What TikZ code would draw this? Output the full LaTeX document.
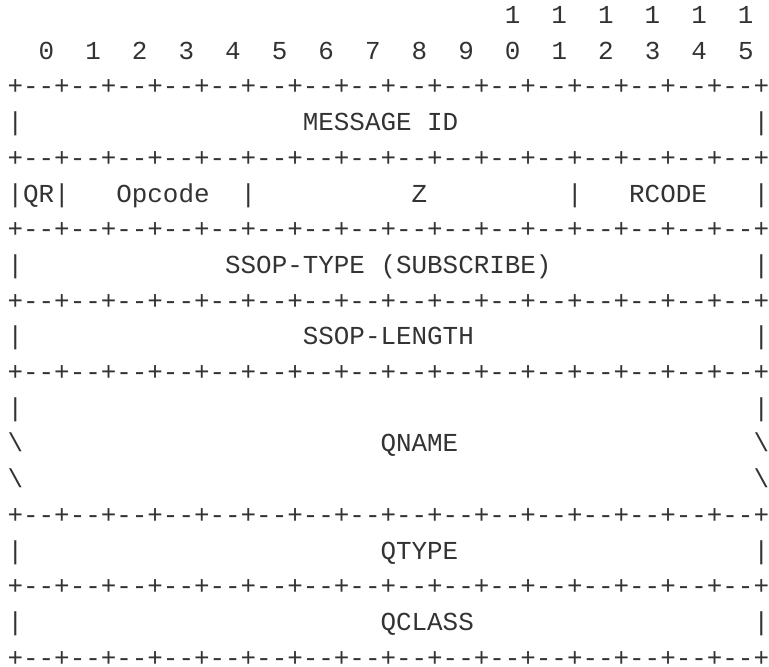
\documentclass[tikz,border=0pt]{standalone}
\usepackage{fontspec}
\setmonofont[Numbers=SlashedZero]{Liberation Mono}

\definecolor{asciigray}{HTML}{333333}
\newcommand{\sepline}{+--+--+--+--+--+--+--+--+--+--+--+--+--+--+--+--+\kern-1.2pt}
\newcommand{\edge}[1]{#1\kern-1.2pt}

\tikzset{
    ascii/.style={anchor=base west, inner sep=0pt, outer sep=0pt, text=asciigray,
        font=\ttfamily\fontsize{25.9}{31}\selectfont}
}

\begin{document}
\begin{tikzpicture}[x=15.54pt, y=-35.7pt]
    \useasboundingbox (-0.489,-0.661) rectangle (48.997,18.022);

    \node[ascii] (bitsHi) at (32,0) {1~~1~~1~~1~~1~~\edge{1}};
    \node[ascii] (bitsLo) at (2,1) {0~~1~~2~~3~~4~~5~~6~~7~~8~~9~~0~~1~~2~~3~~4~~\edge{5}};
    \node[ascii] (sepA) at (0,2) {\sepline};

    \node[ascii] (idL) at (0,3) {|};
    \node[ascii] (msgid) at (19,3) {MESSAGE~ID};
    \node[ascii] (idR) at (48,3) {\edge{|}};
    \node[ascii] (sepB) at (0,4) {\sepline};

    \node[ascii] (qr) at (0,5) {|QR|};
    \node[ascii] (opcode) at (7,5) {Opcode};
    \node[ascii] (opBar) at (15,5) {|};
    \node[ascii] (zfield) at (26,5) {Z};
    \node[ascii] (zBar) at (36,5) {|};
    \node[ascii] (rcode) at (40,5) {RCODE};
    \node[ascii] (flagsR) at (48,5) {\edge{|}};
    \node[ascii] (sepC) at (0,6) {\sepline};

    \node[ascii] (typeL) at (0,7) {|};
    \node[ascii] (ssoptype) at (14,7) {SSOP-TYPE~(SUBSCRIBE)};
    \node[ascii] (typeR) at (48,7) {\edge{|}};
    \node[ascii] (sepD) at (0,8) {\sepline};

    \node[ascii] (lenL) at (0,9) {|};
    \node[ascii] (ssoplen) at (19,9) {SSOP-LENGTH};
    \node[ascii] (lenR) at (48,9) {\edge{|}};
    \node[ascii] (sepE) at (0,10) {\sepline};

    \node[ascii] (nameL) at (0,11) {|};
    \node[ascii] (nameR) at (48,11) {\edge{|}};
    \node[ascii] (nameLa) at (0,12) {\textbackslash};
    \node[ascii] (qname) at (24,12) {QNAME};
    \node[ascii] (nameRa) at (48,12) {\edge{\textbackslash}};
    \node[ascii] (nameLb) at (0,13) {\textbackslash};
    \node[ascii] (nameRb) at (48,13) {\edge{\textbackslash}};
    \node[ascii] (sepF) at (0,14) {\sepline};

    \node[ascii] (qtypeL) at (0,15) {|};
    \node[ascii] (qtype) at (24,15) {QTYPE};
    \node[ascii] (qtypeR) at (48,15) {\edge{|}};
    \node[ascii] (sepG) at (0,16) {\sepline};

    \node[ascii] (qclassL) at (0,17) {|};
    \node[ascii] (qclass) at (24,17) {QCLASS};
    \node[ascii] (qclassR) at (48,17) {\edge{|}};
    \node[ascii] (sepH) at (0,18) {\sepline};
\end{tikzpicture}
\end{document}
